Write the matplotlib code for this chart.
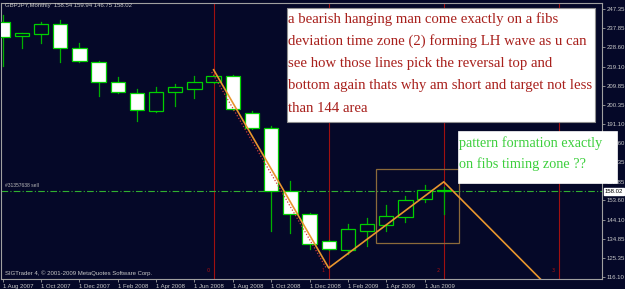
import matplotlib
matplotlib.use('Agg')
import matplotlib.pyplot as plt
from matplotlib.patches import Rectangle

# monthly GBPJPY candles, Aug 2007 .. Jul 2009
months = ['Aug 2007', 'Sep 2007', 'Oct 2007', 'Nov 2007', 'Dec 2007', 'Jan 2008',
          'Feb 2008', 'Mar 2008', 'Apr 2008', 'May 2008', 'Jun 2008', 'Jul 2008',
          'Aug 2008', 'Sep 2008', 'Oct 2008', 'Nov 2008', 'Dec 2008', 'Jan 2009',
          'Feb 2009', 'Mar 2009', 'Apr 2009', 'May 2009', 'Jun 2009', 'Jul 2009']
opens = [241.1, 233.9, 235.1, 240.0, 228.2, 221.3, 211.7, 206.1, 197.5, 206.6, 208.1, 211.5,
         214.3, 196.3, 189.0, 158.1, 147.0, 133.7, 129.2, 138.8, 141.6, 145.7, 154.2, 158.54]
highs = [244.5, 235.8, 241.1, 242.1, 230.6, 222.0, 214.0, 208.1, 209.1, 210.7, 214.3, 214.5,
         215.0, 197.6, 190.1, 163.3, 147.3, 134.0, 141.9, 144.9, 151.4, 155.8, 161.2, 159.94]
lows = [219.5, 228.5, 230.5, 221.3, 221.5, 204.5, 206.3, 192.7, 196.8, 199.9, 204.0, 211.0,
        197.8, 188.5, 138.8, 137.5, 129.7, 129.5, 127.2, 131.4, 138.8, 142.9, 153.0, 146.75]
closes = [233.7, 235.6, 240.0, 228.5, 221.8, 211.8, 206.6, 198.0, 206.6, 209.1, 211.8, 214.3,
          198.5, 189.0, 158.4, 147.0, 132.1, 129.8, 139.6, 141.9, 146.0, 153.7, 158.7, 158.02]

# x axis date labels (every 2nd month)
xtick_idx = [0, 2, 4, 6, 8, 10, 12, 14, 16, 18, 20, 22]
xtick_labels = ['1 Aug 2007', '1 Oct 2007', '1 Dec 2007', '1 Feb 2008', '1 Apr 2008',
                '1 Jun 2008', '1 Aug 2008', '1 Oct 2008', '1 Dec 2008', '1 Feb 2009',
                '1 Apr 2009', '1 Jun 2009']
# price scale
yticks = [247.35, 237.85, 228.60, 219.10, 209.85, 200.35, 191.10, 181.60, 172.35,
          162.85, 153.60, 144.10, 134.85, 125.35, 116.10]

# drawn objects
zigzag_x = [11, 17, 23, 29]
zigzag_y = [217.6, 120.5, 162.7, 106.0]
trend_x = [10.9, 16.9]
trend_y = [216.5, 120.0]
fib_zones = [11, 17, 23, 29]
fib_labels = ['0', '1', '2', '3']
box_x = [19.45, 23.8]
box_y = [132.9, 168.9]
sell_price = 158.02
last_price = 158.02

bg = '#050828'
fg = '#c8c8c8'
W, H = 625, 289

fig = plt.figure(figsize=(W / 100, H / 100), dpi=100, facecolor=bg)
ax = fig.add_axes([1.5 / W, 10 / H, 600.5 / W, 276 / H], facecolor=bg)

# candles
for i in range(len(months)):
    o, h, l, c = opens[i], highs[i], lows[i], closes[i]
    ax.plot([i, i], [l, h], color='#00b000', lw=0.9, zorder=2)
    bull = c >= o
    ax.bar(i, max(abs(c - o), 0.3), bottom=min(o, c), width=0.75,
           color=bg if bull else 'white', edgecolor='#00d000', linewidth=0.9, zorder=3)

# fib time zones
for x, t in zip(fib_zones, fib_labels):
    ax.axvline(x, color='#a01010', lw=0.8, zorder=1)
    ax.text(x - 0.3, 119.5, t, color='#b01010', fontsize=3.5, ha='center', va='center', zorder=4)

# sell level
ax.axhline(sell_price, color='#30b030', lw=0.8, ls=(0, (6, 2, 1, 2)), zorder=1)
ax.text(0.1, sell_price + 1.8, '#31357638 sell', color='#b8b8b8', fontsize=3.6,
        family='Liberation Sans', va='bottom', zorder=4)

# zigzag + dotted trendline
ax.plot(trend_x, trend_y, color='#d03a3a', lw=0.9, ls=(0, (1, 1.5)), zorder=4)
ax.plot(zigzag_x, zigzag_y, color='#e8962e', lw=1.2, zorder=5)

# rectangle
ax.add_patch(Rectangle((box_x[0], box_y[0]), box_x[1] - box_x[0], box_y[1] - box_y[0],
                       fill=False, edgecolor='#8c6a3a', lw=0.9, zorder=2))

ax.set_xlim(-0.06, 31.25)
ax.set_ylim(115.1, 250.3)

for s in ax.spines.values():
    s.set_color('#a0a0a0')
    s.set_linewidth(0.8)

ax.yaxis.tick_right()
ax.set_yticks(yticks)
ax.set_yticklabels(['%.2f' % v for v in yticks])
ax.set_xticks(xtick_idx)
ax.set_xticklabels(xtick_labels)
ax.tick_params(axis='both', colors='#a0a0a0', labelcolor=fg, labelsize=4.3,
               length=2, width=0.6, pad=1.5)
for lab in ax.get_xticklabels() + ax.get_yticklabels():
    lab.set_family('Liberation Sans')
for lab in ax.get_xticklabels():
    lab.set_ha('left')

# header and footer
fig.text(5 / W, 1 - 6 / H, 'GBPJPY,Monthly  158.54 159.94 146.75 158.02', color=fg,
         fontsize=4.3, family='Liberation Sans', va='center')
fig.text(5 / W, 1 - 273 / H, 'SIGTrader 4, \u00a9 2001-2009 MetaQuotes Software Corp.',
         color=fg, fontsize=4.3, family='Liberation Sans', va='center')

# current price tag on the scale
fig.text(605 / W, 1 - 191.5 / H, '%.2f' % last_price, color='black', fontsize=4.3,
         family='Liberation Sans', va='center',
         bbox=dict(boxstyle='square,pad=0.15', fc='white', ec='white'), zorder=6)

# text box 1
fig.patches.append(Rectangle((287 / W, 1 - 122 / H), 308 / W, 114 / H,
                             transform=fig.transFigure, facecolor='white',
                             edgecolor='#909090', lw=0.8, zorder=5))
lines1 = ['a bearish hanging man come exactly on a fibs',
          'deviation time zone (2) forming LH wave as u can',
          'see how those lines pick the reversal top and',
          'bottom again thats why am short and target not less',
          'than 144 area']
for k, t in enumerate(lines1):
    fig.text(288 / W, 1 - (19 + 22.3 * k) / H, t, color='#a8201c', fontsize=10.6,
             family='Liberation Serif', va='center', zorder=6)

# text box 2
fig.patches.append(Rectangle((458 / W, 1 - 183 / H), 159 / W, 52 / H,
                             transform=fig.transFigure, facecolor='white',
                             edgecolor='white', lw=0.5, zorder=5))
lines2 = ['pattern formation exactly', 'on fibs timing zone ??']
for k, t in enumerate(lines2):
    fig.text(459 / W, 1 - (143 + 21 * k) / H, t, color='#3ccf3c', fontsize=10.3,
             family='Liberation Serif', va='center', zorder=6)

fig.savefig('out.png', dpi=100, facecolor=bg)
